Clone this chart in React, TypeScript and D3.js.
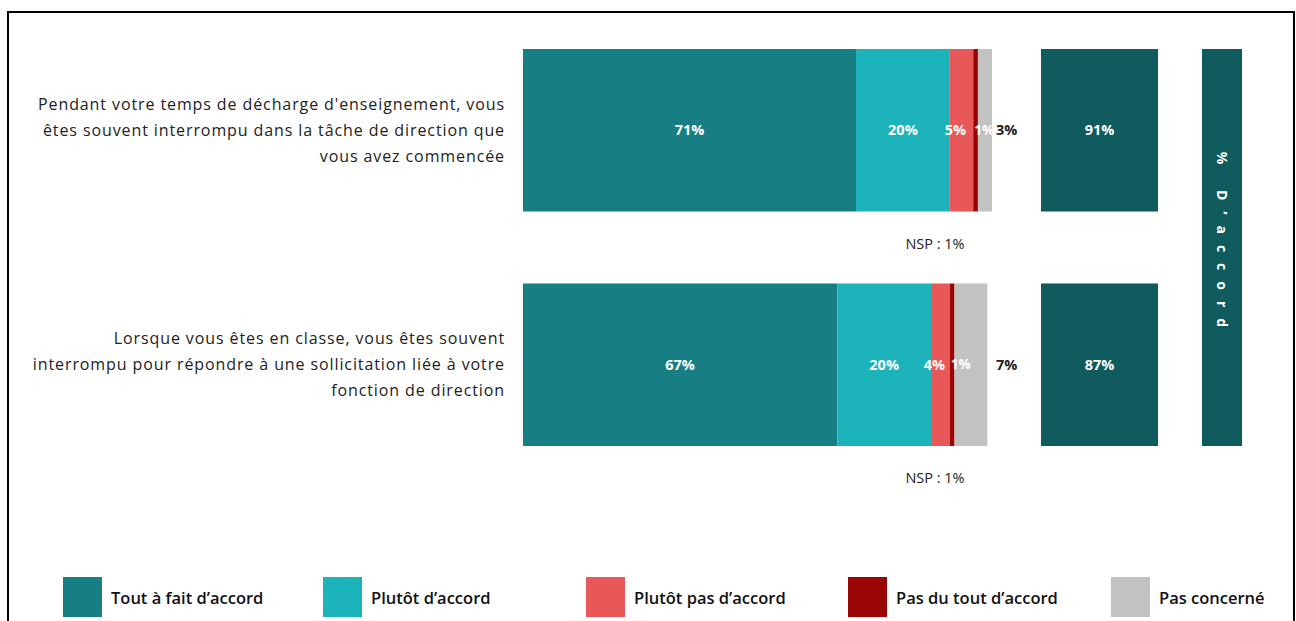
import React, { useEffect, useRef } from "react";
import * as d3 from "d3";

// questions (one line per row of text)
const questions = [
  ["Pendant votre temps de décharge d'enseignement, vous", "êtes souvent interrompu dans la tâche de direction que", "vous avez commencée"],
  ["Lorsque vous êtes en classe, vous êtes souvent", "interrompu pour répondre à une sollicitation liée à votre", "fonction de direction"],
];

const seriesNames = ["Tout à fait d’accord", "Plutôt d’accord", "Plutôt pas d’accord", "Pas du tout d’accord", "Pas concerné"];
const seriesColors = ["#177e83", "#1cb3ba", "#e85858", "#990404", "#c2c2c2"];

const toutAFait = [71, 67];
const plutotAccord = [20, 20];
const plutotPas = [5, 4];
const pasDuTout = [1, 1];
const pasConcerne = [3, 7];
const totalAccord = [91, 87];
const nsp = [1, 1];

const totalColor = "#0f5b5e";
const font = "'Open Sans', 'DejaVu Sans', sans-serif";

const App = () => {
  const ref = useRef<SVGSVGElement>(null);

  useEffect(() => {
    const svg = d3.select(ref.current);
    svg.selectAll("*").remove();

    // outer frame
    svg.append("rect")
      .attr("x", 8).attr("y", 12).attr("width", 1286).attr("height", 620)
      .attr("fill", "white").attr("stroke", "#000").attr("stroke-width", 2);

    const x = d3.scaleLinear().domain([0, 100]).range([523, 992]);
    const y = d3.scaleBand<number>().domain([0, 1]).range([49, 446]).paddingInner(0.307);
    const bh = y.bandwidth();

    const rows = questions.map((q, i) => {
      const vals = [toutAFait[i], plutotAccord[i], plutotPas[i], pasDuTout[i], pasConcerne[i]];
      let acc = 0;
      const segs = vals.map((v, k) => {
        const s = { k, v, x0: acc, x1: acc + v };
        acc += v;
        return s;
      });
      return { i, q, segs };
    });

    const g = svg.selectAll(".row").data(rows).enter().append("g").attr("class", "row");

    g.selectAll("rect.seg")
      .data(d => d.segs.map(s => ({ ...s, i: d.i })))
      .enter().append("rect")
      .attr("class", "seg")
      .attr("x", d => x(d.x0))
      .attr("y", d => y(d.i)!)
      .attr("width", d => x(d.x1) - x(d.x0))
      .attr("height", bh)
      .attr("fill", d => seriesColors[d.k]);

    // segment labels; the tiny "pas du tout" one sits at its left edge,
    // "pas concerné" goes outside the bar in dark text
    g.selectAll("text.lab")
      .data(d => d.segs.map(s => ({ ...s, i: d.i })))
      .enter().append("text")
      .attr("class", "lab")
      .attr("x", d => d.k === 4 ? x(100) + 4 : d.k === 3 ? x(d.x0) + 1 : (x(d.x0) + x(d.x1)) / 2 - (d.k === 2 ? 6 : 0))
      .attr("y", d => y(d.i)! + bh / 2)
      .attr("dy", "0.35em")
      .attr("text-anchor", d => (d.k >= 3 ? "start" : "middle"))
      .attr("fill", d => (d.k === 4 ? "#222" : "#fff"))
      .attr("font-family", font)
      .attr("font-weight", "bold")
      .attr("font-size", d => (d.k === 3 ? 13.5 : 14.5))
      .text(d => `${d.v}%`);

    // NSP
    g.append("text")
      .attr("x", 935)
      .attr("y", d => y(d.i)! + bh + 37)
      .attr("text-anchor", "middle")
      .attr("fill", "#222")
      .attr("font-family", font)
      .attr("font-size", 14.5)
      .text(d => `NSP : ${nsp[d.i]}%`);

    // total agree
    g.append("rect")
      .attr("x", 1041).attr("y", d => y(d.i)!)
      .attr("width", 117).attr("height", bh)
      .attr("fill", totalColor);
    g.append("text")
      .attr("x", 1099.5).attr("y", d => y(d.i)! + bh / 2)
      .attr("dy", "0.35em")
      .attr("text-anchor", "middle")
      .attr("fill", "#fff")
      .attr("font-family", font)
      .attr("font-weight", "bold")
      .attr("font-size", 14.5)
      .text(d => `${totalAccord[d.i]}%`);

    // question text, right aligned
    g.append("text")
      .attr("text-anchor", "end")
      .attr("fill", "#222")
      .attr("font-family", font)
      .attr("font-size", 16)
      .attr("letter-spacing", 0.9)
      .selectAll("tspan")
      .data(d => d.q.map((line, j) => ({ line, j, i: d.i })))
      .enter().append("tspan")
      .attr("x", 505)
      .attr("y", d => y(d.i)! + bh / 2 - 26 + d.j * 26)
      .attr("dy", "0.35em")
      .text(d => d.line);

    // side banner
    svg.append("rect")
      .attr("x", 1202).attr("y", 49).attr("width", 40).attr("height", 397)
      .attr("fill", totalColor);
    svg.append("text")
      .attr("transform", "translate(1222,245) rotate(90)")
      .attr("text-anchor", "middle")
      .attr("dy", "0.35em")
      .attr("fill", "#fff")
      .attr("font-family", font)
      .attr("font-weight", "bold")
      .attr("font-size", 14)
      .attr("letter-spacing", 11)
      .text("% D’accord");

    // legend
    const lx = [63, 323, 586, 848, 1111];
    const lg = svg.selectAll(".leg").data(seriesNames).enter().append("g").attr("class", "leg")
      .attr("transform", (d, i) => `translate(${lx[i]},577)`);
    lg.append("rect").attr("width", 39).attr("height", 40).attr("fill", (d, i) => seriesColors[i]);
    lg.append("text")
      .attr("x", 48).attr("y", 21).attr("dy", "0.35em")
      .attr("fill", "#111")
      .attr("font-family", font)
      .attr("font-weight", 600)
      .attr("font-size", 16.5)
      .text(d => d);
  }, []);

  return (
    <svg ref={ref} width={1296} height={621}
      style={{ position: "absolute", left: 0, top: 0, background: "#fff" }} />
  );
};

export default App;
